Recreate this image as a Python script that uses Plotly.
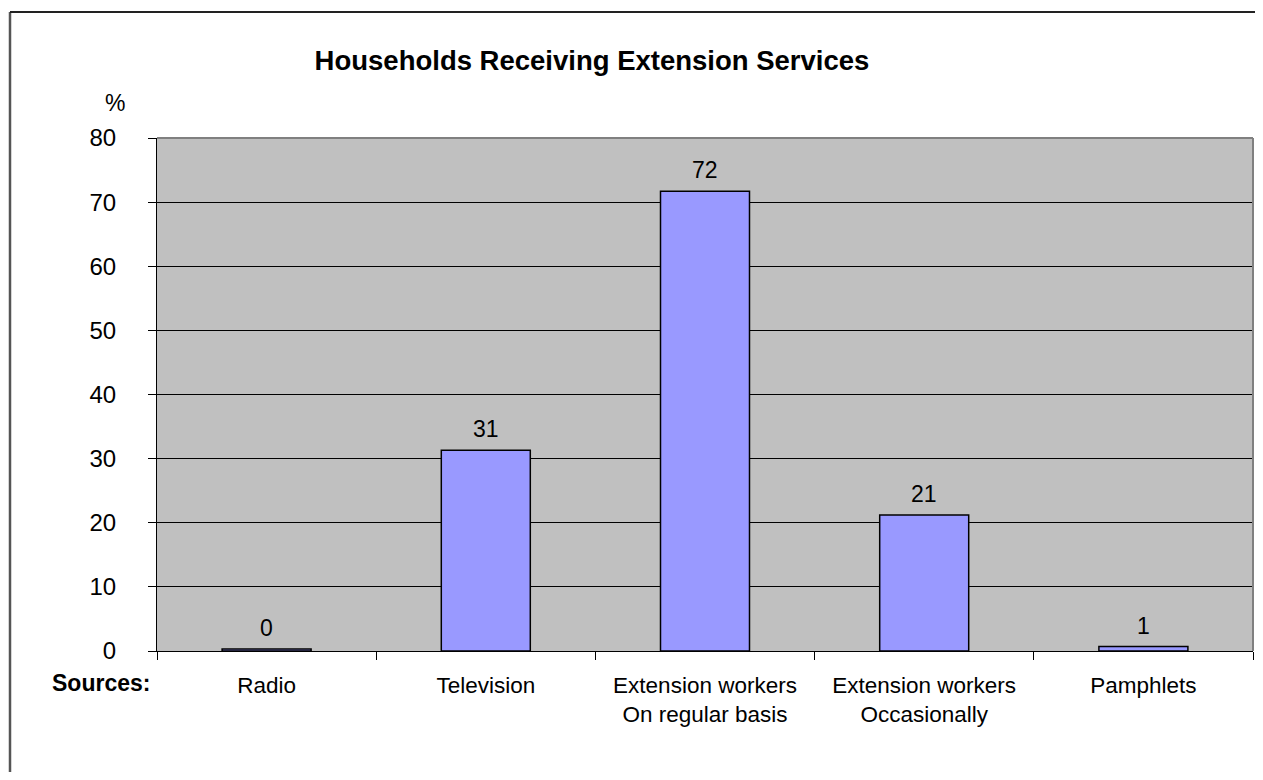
import plotly.graph_objects as go

categories = ["Radio", "Television", "Extension workers<br>On regular basis",
              "Extension workers<br>Occasionally", "Pamphlets"]
values = [0.3, 31.3, 71.7, 21.2, 0.7]
labels = ["0", "31", "72", "21", "1"]
y_ticks = [0, 10, 20, 30, 40, 50, 60, 70, 80]

FONT = "Liberation Sans, Arial, sans-serif"

# figure is placed at (8,8) in page; layout in figure pixels
W, H = 1247, 764
L, R, T, B = 149, 1245, 130, 643
pw, ph = R - L, B - T

fig = go.Figure()
fig.add_trace(go.Bar(
    x=categories, y=values, width=0.406,
    marker=dict(color="#9999FF", line=dict(color="#000000", width=1.5)),
    hoverinfo="skip",
))

for c, v, t in zip(categories, values, labels):
    fig.add_annotation(x=c, y=v, text=t, showarrow=False, yshift=21,
                       font=dict(family=FONT, size=23, color="#000"))

fig.update_layout(
    width=W, height=H,
    margin=dict(l=L, r=W - R, t=T, b=H - B, pad=0),
    paper_bgcolor="white", plot_bgcolor="#C0C0C0",
    showlegend=False,
    font=dict(family=FONT, size=23, color="#000"),
    title=dict(text="<b>Households Receiving Extension Services</b>",
               x=584 / W, xanchor="center", y=1 - 52 / H, yanchor="middle",
               font=dict(family=FONT, size=27.5, color="#000")),
)
fig.update_yaxes(range=[0, 80], tickvals=y_ticks, showgrid=True, gridcolor="#000000",
                 gridwidth=1, showline=True, linecolor="#000", linewidth=1,
                 ticks="outside", ticklen=8, tickcolor="#000", ticklabelstandoff=27,
                 zeroline=False, tickfont=dict(size=24), fixedrange=True)
fig.update_xaxes(showline=True, linecolor="#000", linewidth=1, ticks="outside",
                 ticklen=8, tickcolor="#000", tickson="boundaries",
                 ticklabelstandoff=14, tickfont=dict(size=22.5), fixedrange=True)

# plot area border (gray top/right)
fig.add_shape(type="line", xref="paper", yref="paper", x0=0, x1=1, y0=1, y1=1,
              line=dict(color="#808080", width=2))
fig.add_shape(type="line", xref="paper", yref="paper", x0=1, x1=1, y0=0, y1=1,
              line=dict(color="#808080", width=2))

# outer frame (left and top lines)
fig.add_shape(type="line", xref="paper", yref="paper",
              x0=(2 - L) / pw, x1=(2 - L) / pw,
              y0=(B - 4) / ph, y1=(B - 800) / ph,
              line=dict(color="#555555", width=2.5))
fig.add_shape(type="line", xref="paper", yref="paper",
              x0=(2 - L) / pw, x1=(1300 - L) / pw,
              y0=(B - 4) / ph, y1=(B - 4) / ph,
              line=dict(color="#222222", width=2))

fig.add_annotation(xref="paper", yref="paper", x=(107 - L) / pw, y=(B - 95) / ph,
                   text="%", showarrow=False, xanchor="center", yanchor="middle",
                   font=dict(family=FONT, size=23))
fig.add_annotation(xref="paper", yref="paper", x=(93 - L) / pw, y=(B - 675) / ph,
                   text="<b>Sources:</b>", showarrow=False, xanchor="center", yanchor="middle",
                   font=dict(family=FONT, size=23))

fig.write_html("out.html")
